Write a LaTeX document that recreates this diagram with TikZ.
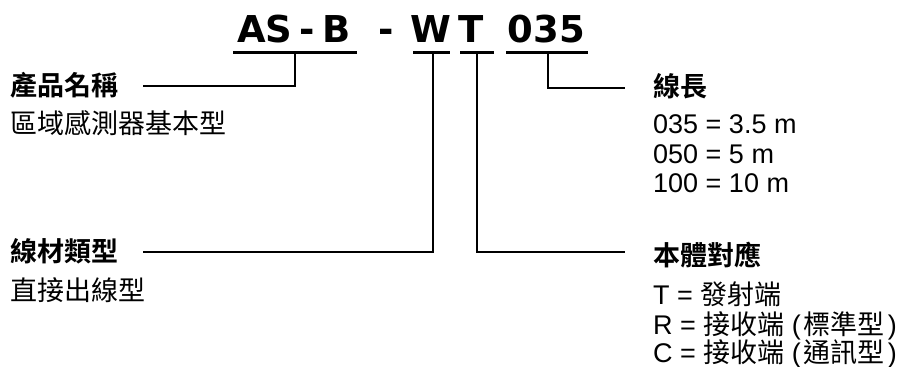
\documentclass[tikz,border=0pt]{standalone}
\usepackage{fontspec}
\setmainfont{Liberation Sans}
\newfontfamily\titlef{DejaVu Sans}
\newfontfamily\cjk{Noto Sans CJK TC}[BoldFont={* Bold}]
\begin{document}
\begin{tikzpicture}[x=1pt,y=-1pt,
  ttl/.style={inner sep=0pt,anchor=base,font=\fontsize{37}{37}\selectfont\titlef\bfseries},
  hd/.style={inner sep=0pt,anchor=base west,font=\fontsize{27}{27}\selectfont\cjk\bfseries},
  tx/.style={inner sep=0pt,anchor=base west,font=\fontsize{27}{27}\selectfont},
  uline/.style={line width=3pt},
  conn/.style={line width=2pt}]
\useasboundingbox (0,0) rectangle (898,367);
% title
\node[ttl] (tA) at (265,42) {AS};
\node[ttl] (tD1) at (307.5,42) {-};
\node[ttl] (tB) at (336.5,42) {B};
\node[ttl] (tD) at (386,42) {-};
\node[ttl] (tW) at (430.5,42) {W};
\node[ttl] (tT) at (471.5,42) {T};
\node[ttl] (tN) at (546.5,42) {035};
% underlines
\coordinate (uA1) at (233,52); \coordinate (uA2) at (357,52);
\coordinate (uW1) at (413,52); \coordinate (uW2) at (450,52);
\coordinate (uT1) at (460,52); \coordinate (uT2) at (494,52);
\coordinate (uN1) at (506,52); \coordinate (uN2) at (588,52);
\draw[uline] (uA1) -- (uA2);
\draw[uline] (uW1) -- (uW2);
\draw[uline] (uT1) -- (uT2);
\draw[uline] (uN1) -- (uN2);
% labels
\node[hd] (l1) at (10,95) {產品名稱};
\node[tx] (l1b) at (10,133) {\cjk 區域感測器基本型};
\node[hd] (l2) at (10,261) {線材類型};
\node[tx] (l2b) at (10,300) {\cjk 直接出線型};
\node[hd] (r1) at (653,96) {線長};
\node[tx] (r1a) at (653,133) {035 = 3.5 m};
\node[tx] (r1b) at (653,163) {050 = 5 m};
\node[tx] (r1c) at (653,192) {100 = 10 m};
\node[hd] (r2) at (653,265) {本體對應};
\node[tx] (r2a) at (653,304) {T = {\cjk 發射端}};
\node[tx] (r2b) at (653,334) {R = {\cjk 接收端} (\hspace{3pt}{\cjk 標準型}\hspace{3pt})};
\node[tx] (r2c) at (653,362) {C = {\cjk 接收端} (\hspace{3pt}{\cjk 通訊型}\hspace{3pt})};
% connectors
\coordinate (cA) at (295,52); \coordinate (eA) at (143,86);
\coordinate (cW) at (433,52); \coordinate (eW) at (143,252);
\coordinate (cT) at (477,52); \coordinate (eT) at (625,252);
\coordinate (cN) at (548,52); \coordinate (eN) at (625,88);
\draw[conn] (cA) |- (eA);
\draw[conn] (cW) |- (eW);
\draw[conn] (cT) |- (eT);
\draw[conn] (cN) |- (eN);
\end{tikzpicture}
\end{document}
